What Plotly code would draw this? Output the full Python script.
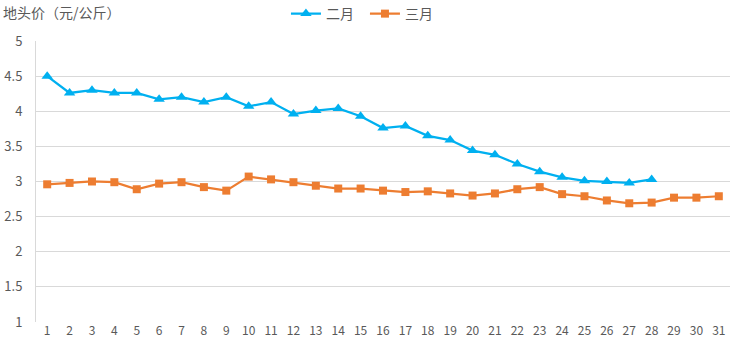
import plotly.graph_objects as go

days = [str(i) for i in range(1, 32)]
feb = [4.50, 4.26, 4.30, 4.26, 4.26, 4.17, 4.20, 4.13, 4.20, 4.07,
       4.13, 3.96, 4.01, 4.04, 3.93, 3.76, 3.79, 3.65, 3.59, 3.44,
       3.38, 3.25, 3.14, 3.06, 3.01, 3.00, 2.98, 3.03]
mar = [2.96, 2.98, 3.00, 2.99, 2.89, 2.97, 2.99, 2.92, 2.87, 3.07,
       3.03, 2.99, 2.94, 2.90, 2.90, 2.87, 2.85, 2.86, 2.83, 2.80,
       2.83, 2.89, 2.92, 2.82, 2.79, 2.73, 2.69, 2.70, 2.77, 2.77, 2.79]
y_ticks = [1, 1.5, 2, 2.5, 3, 3.5, 4, 4.5, 5]
y_labels = ["1", "1.5", "2", "2.5", "3", "3.5", "4", "4.5", "5"]

FONT = "Noto Sans CJK SC"
GRAY = "#595959"

fig = go.Figure()
fig.add_trace(go.Scatter(x=days[:len(feb)], y=feb, name="二月", mode="lines+markers",
                         line=dict(color="#00B0F0", width=2.25),
                         marker=dict(symbol="triangle-up", size=10, color="#00B0F0")))
fig.add_trace(go.Scatter(x=days, y=mar, name="三月", mode="lines+markers",
                         line=dict(color="#ED7D31", width=2.25),
                         marker=dict(symbol="square", size=8, color="#ED7D31")))

fig.update_layout(
    width=734, height=351,
    margin=dict(l=36, r=4, t=41, b=29, autoexpand=False),
    paper_bgcolor="white", plot_bgcolor="white",
    font=dict(family=FONT, size=13, color=GRAY),
    showlegend=True,
    legend=dict(orientation="h", x=0.474, y=1.096, xanchor="center", yanchor="middle",
                font=dict(family=FONT, size=14, color=GRAY),
                entrywidth=34, tracegroupgap=0,
                bgcolor="rgba(0,0,0,0)"),
    xaxis=dict(type="category", categoryorder="array", categoryarray=days,
               range=[-0.5, 30.5], showgrid=False, showline=False, zeroline=False,
               ticks="", tickfont=dict(size=12, color=GRAY)),
    yaxis=dict(range=[1, 5], tickvals=y_ticks, ticktext=y_labels,
               showgrid=True, gridcolor="#D9D9D9", gridwidth=1,
               showline=True, linecolor="#D9D9D9", linewidth=1,
               zeroline=False, ticks="", ticklabelstandoff=10,
               tickfont=dict(size=13, color=GRAY)),
    annotations=[dict(text="地头价（元/公斤）", x=0, y=1, xref="paper", yref="paper",
                      xanchor="left", yanchor="top", xshift=-35, yshift=41,
                      showarrow=False, font=dict(family=FONT, size=14, color=GRAY))]
)
fig.write_html("out.html")
